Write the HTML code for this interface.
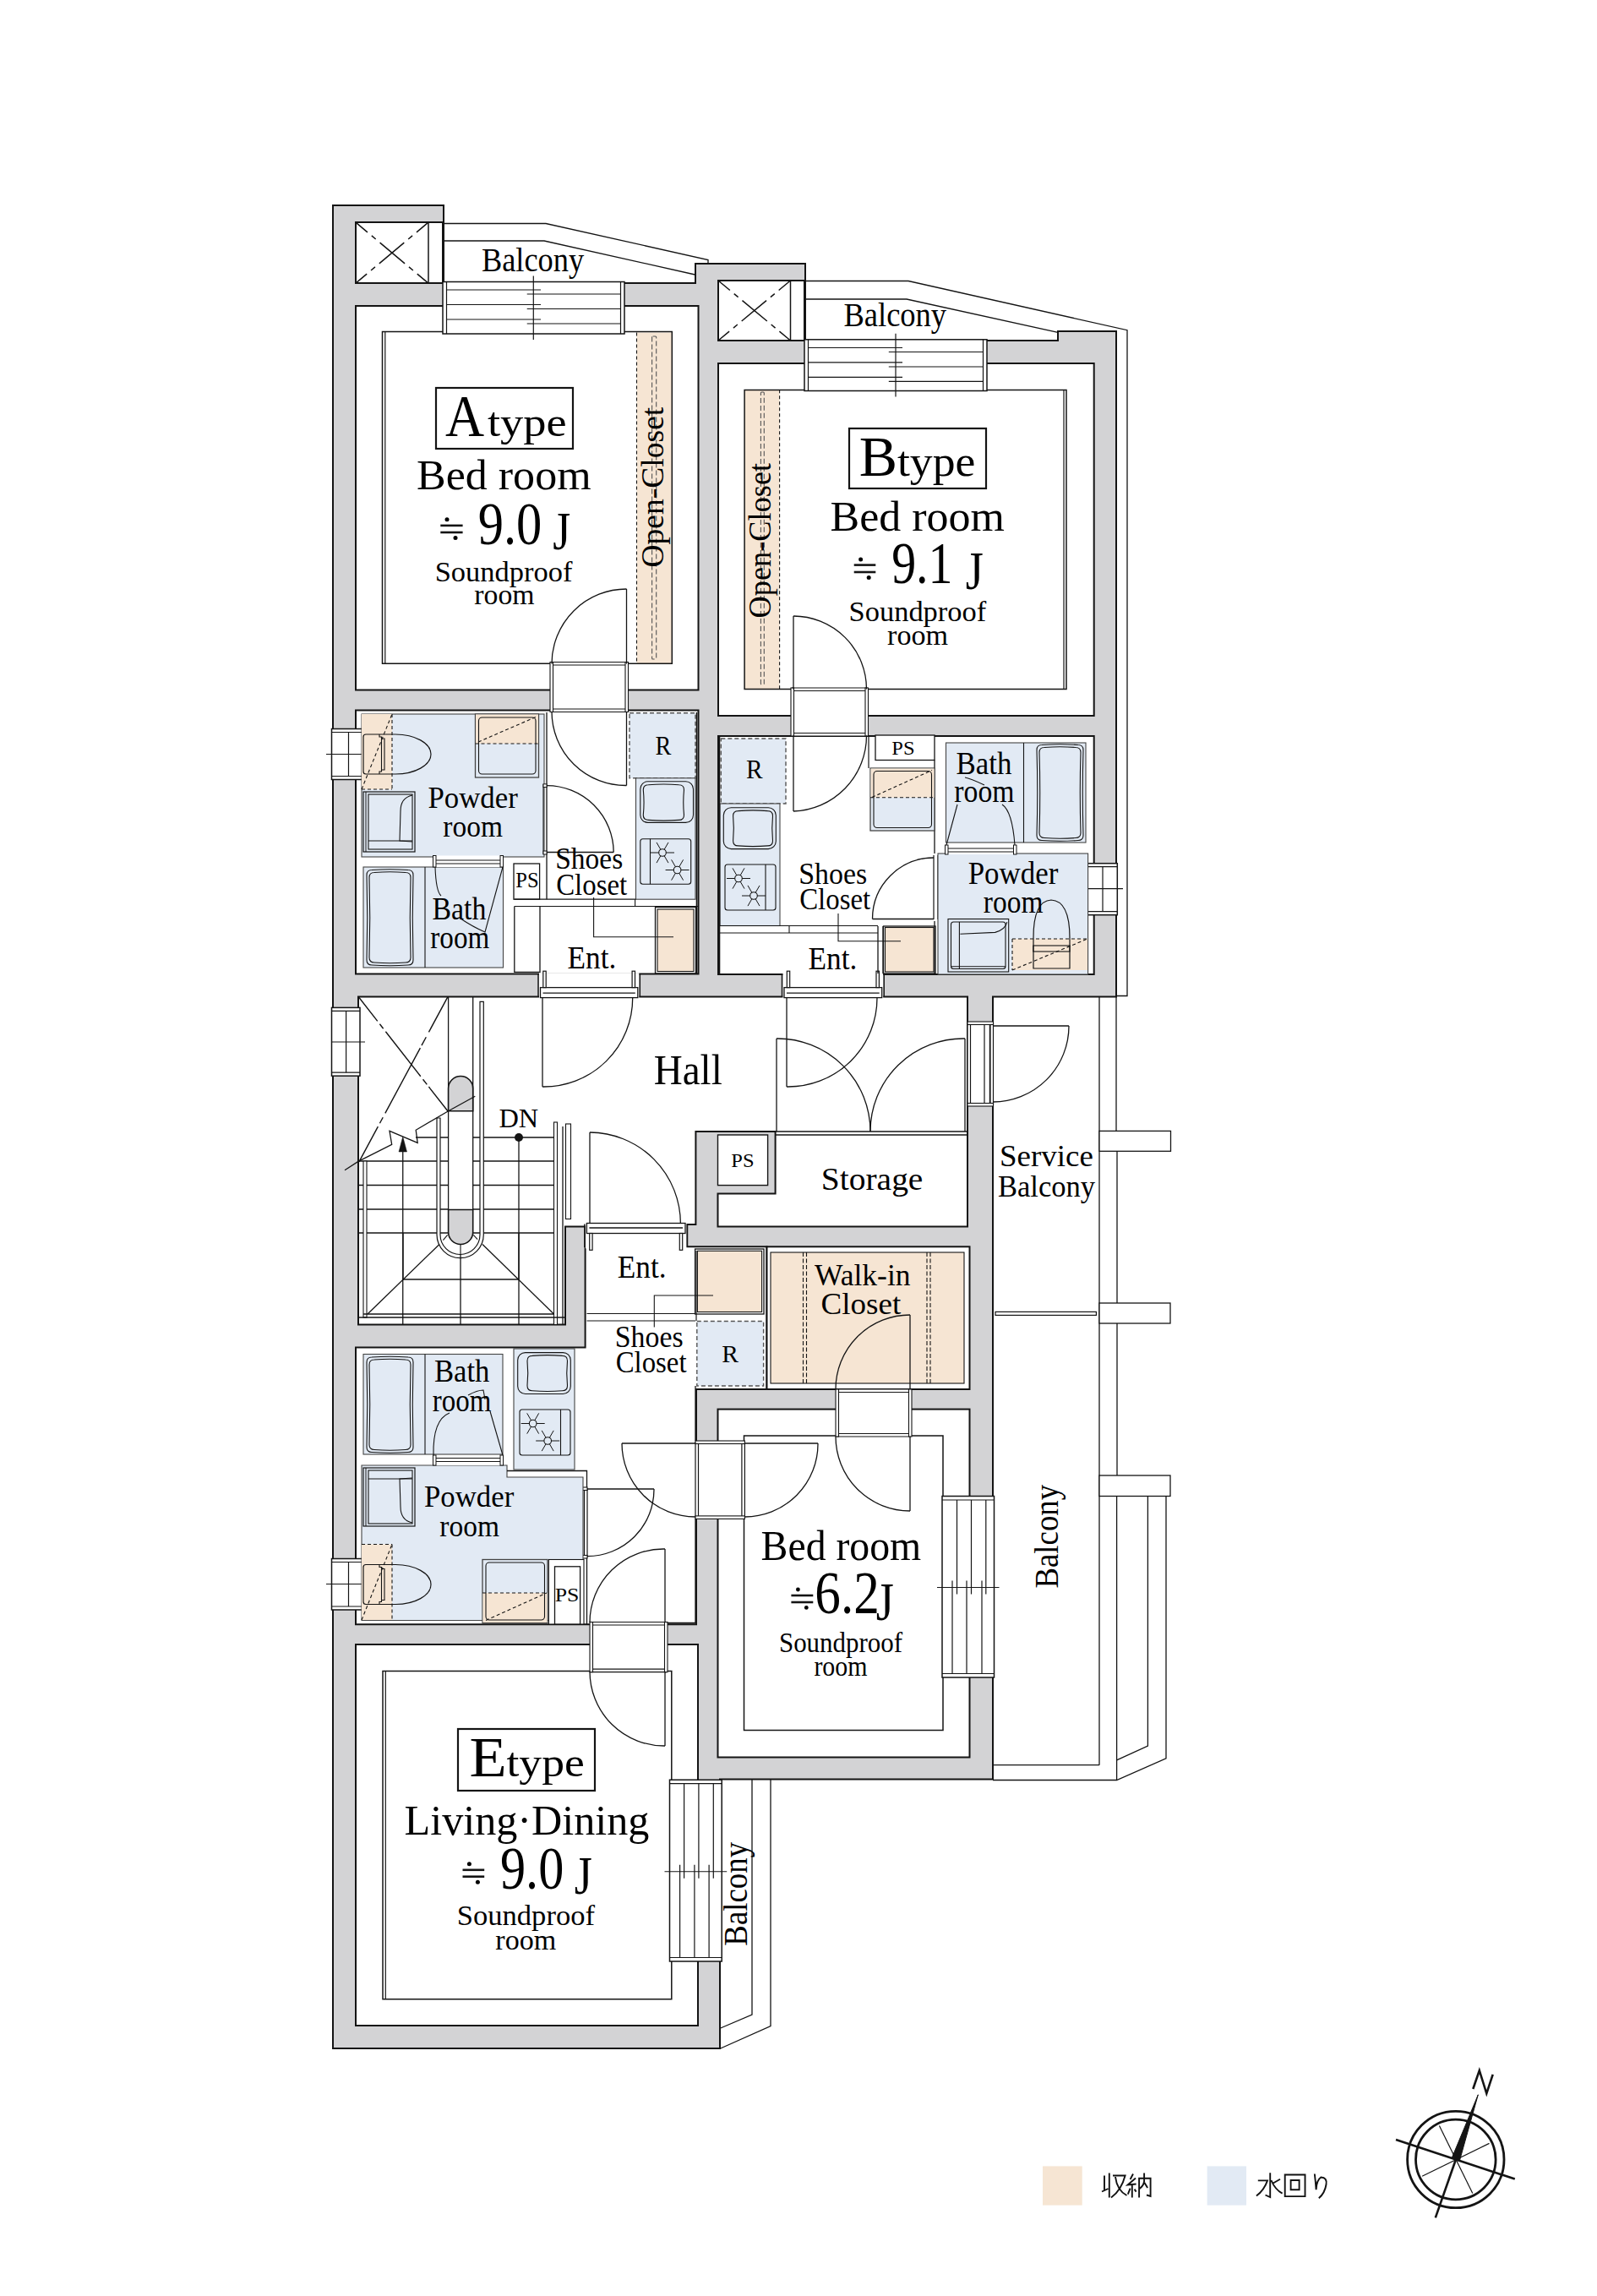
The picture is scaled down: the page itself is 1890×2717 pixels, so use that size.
<!DOCTYPE html>
<html><head><meta charset="utf-8"><title>Floor plan</title>
<style>html,body{margin:0;padding:0;background:#fff;} svg{display:block;} text{font-family:"Liberation Serif",serif;}</style>
</head><body>
<svg width="1890" height="2717" viewBox="0 0 1890 2717">
<rect x="0" y="0" width="1890" height="2717" fill="#fff"/>
<polygon points="394,243 525,243 525,335 823,335 823,312 953,312 953,403 1252,403 1252,392 1321,392 1321,1179.5 1175,1179.5 1175,2105.5 852,2105.5 852,2424 394,2424" fill="#d3d3d5" stroke="#141414" stroke-width="2" />
<rect x="421" y="263" width="103" height="72" fill="#fff" stroke="#141414" stroke-width="2" />
<rect x="850" y="332" width="102" height="71" fill="#fff" stroke="#141414" stroke-width="2" />
<rect x="421" y="362" width="405.5" height="454.5" fill="#fff" stroke="#141414" stroke-width="2" />
<rect x="850" y="430" width="444.7" height="417" fill="#fff" stroke="#141414" stroke-width="2" />
<rect x="421" y="840.5" width="405.5" height="312" fill="#fff" stroke="#141414" stroke-width="2" />
<rect x="850" y="871" width="444.7" height="282" fill="#fff" stroke="#141414" stroke-width="2" />
<polygon points="424,1179.5 1145,1179.5 1145,1451.5 849.5,1451.5 849.5,1412.6 917.6,1412.6 917.6,1339 823.4,1339 823.4,1449 812.4,1449 812.4,1475.3 692.6,1475.3 692.6,1451.6 669,1451.6 669,1567.5 424,1567.5" fill="#fff" stroke="#141414" stroke-width="2" />
<polygon points="421,1594.5 692.6,1594.5 692.6,1475.3 907.5,1475.3 907.5,1644 824,1644 824,1922.3 421,1922.3" fill="#fff" stroke="#141414" stroke-width="2" />
<rect x="907.5" y="1475.3" width="240" height="168.7" fill="#fff" stroke="#141414" stroke-width="2" />
<rect x="849.5" y="1667.6" width="298" height="411.9" fill="#fff" stroke="#141414" stroke-width="2" />
<rect x="421" y="1946" width="405" height="451" fill="#fff" stroke="#141414" stroke-width="2" />
<rect x="753.5" y="393.4" width="41.8" height="391.9" fill="#f6e5d3" stroke="#141414" stroke-width="0" />
<polyline points="524,392.5 452.5,392.5 452.5,785.3 795.3,785.3 795.3,392.5 739,392.5" fill="none" stroke="#141414" stroke-width="1.5" />
<line x1="455.8" y1="392.5" x2="455.8" y2="785.3" stroke="#141414" stroke-width="1.2" />
<line x1="753.5" y1="393.4" x2="753.5" y2="785.3" stroke="#141414" stroke-width="1.1" stroke-dasharray="4,3"/>
<rect x="771.6" y="398" width="5.1" height="382" fill="none" stroke="#555" stroke-width="1.1" stroke-dasharray="6,3" rx="1"/>
<rect x="881.1" y="461.3" width="41.5" height="354.2" fill="#f6e5d3" stroke="#141414" stroke-width="0" />
<polyline points="952,461.5 881.1,461.5 881.1,815.5 1262,815.5 1262,461.5 1168,461.5" fill="none" stroke="#141414" stroke-width="1.5" />
<line x1="1259" y1="461.5" x2="1259" y2="815.5" stroke="#141414" stroke-width="1.2" />
<line x1="922.6" y1="461.3" x2="922.6" y2="815.5" stroke="#141414" stroke-width="1.1" stroke-dasharray="4,3"/>
<rect x="900.4" y="464" width="3.9" height="346" fill="none" stroke="#555" stroke-width="1.1" stroke-dasharray="6,3" rx="1"/>
<polyline points="794.8,2106 794.8,1977.5 453,1977.5 453,2365.8 794.8,2365.8 794.8,2321" fill="none" stroke="#141414" stroke-width="1.5" />
<line x1="456.3" y1="1977.5" x2="456.3" y2="2365.8" stroke="#141414" stroke-width="1.2" />
<polyline points="880.5,1797 880.5,2047.5 1116,2047.5 1116,1985" fill="none" stroke="#141414" stroke-width="1.5" />
<polyline points="1116,1770.5 1116,1699 1079,1699" fill="none" stroke="#141414" stroke-width="1.5" />
<polyline points="989,1699 880.5,1699 880.5,1705" fill="none" stroke="#141414" stroke-width="1.5" />
<line x1="507" y1="263" x2="507" y2="335" stroke="#141414" stroke-width="1.5" />
<line x1="421" y1="263.2" x2="506.9" y2="335.1" stroke="#141414" stroke-width="1.5" pathLength="100" stroke-dasharray="16.2,5.7,5.7,5.7,34.3,5.7,5.7,5.7,15.5"/>
<line x1="506.9" y1="263.2" x2="421" y2="335.1" stroke="#141414" stroke-width="1.5" pathLength="100" stroke-dasharray="16.2,5.7,5.7,5.7,34.3,5.7,5.7,5.7,15.5"/>
<line x1="935.5" y1="332" x2="935.5" y2="403" stroke="#141414" stroke-width="1.5" />
<line x1="850" y1="332" x2="935.5" y2="403" stroke="#141414" stroke-width="1.5" pathLength="100" stroke-dasharray="16.2,5.7,5.7,5.7,34.3,5.7,5.7,5.7,15.5"/>
<line x1="935.5" y1="332" x2="850" y2="403" stroke="#141414" stroke-width="1.5" pathLength="100" stroke-dasharray="16.2,5.7,5.7,5.7,34.3,5.7,5.7,5.7,15.5"/>
<rect x="912" y="1482" width="229" height="155" fill="#f6e5d3" stroke="#141414" stroke-width="1.1" />
<line x1="950.5" y1="1482" x2="950.5" y2="1637" stroke="#141414" stroke-width="1.1" stroke-dasharray="5,2.5"/>
<line x1="954.5" y1="1482" x2="954.5" y2="1637" stroke="#141414" stroke-width="1.1" stroke-dasharray="5,2.5"/>
<line x1="1097" y1="1482" x2="1097" y2="1637" stroke="#141414" stroke-width="1.1" stroke-dasharray="5,2.5"/>
<line x1="1101" y1="1482" x2="1101" y2="1637" stroke="#141414" stroke-width="1.1" stroke-dasharray="5,2.5"/>
<rect x="524" y="333.5" width="215" height="61.5" fill="#fff" stroke="#141414" stroke-width="1.5" />
<line x1="528.5" y1="333.5" x2="528.5" y2="395" stroke="#141414" stroke-width="1.2" />
<line x1="734.5" y1="333.5" x2="734.5" y2="395" stroke="#141414" stroke-width="1.2" />
<line x1="528.5" y1="343" x2="640" y2="343" stroke="#141414" stroke-width="1.2" />
<line x1="528.5" y1="360.5" x2="640" y2="360.5" stroke="#141414" stroke-width="1.2" />
<line x1="528.5" y1="378" x2="640" y2="378" stroke="#141414" stroke-width="1.2" />
<line x1="623.7" y1="348" x2="734.5" y2="348" stroke="#141414" stroke-width="1.2" />
<line x1="623.7" y1="365.5" x2="734.5" y2="365.5" stroke="#141414" stroke-width="1.2" />
<line x1="623.7" y1="383" x2="734.5" y2="383" stroke="#141414" stroke-width="1.2" />
<line x1="631.3" y1="326.5" x2="631.3" y2="402" stroke="#141414" stroke-width="1.2" />
<rect x="952" y="401.8" width="216" height="60.7" fill="#fff" stroke="#141414" stroke-width="1.5" />
<line x1="956.5" y1="401.8" x2="956.5" y2="462.5" stroke="#141414" stroke-width="1.2" />
<line x1="1163.5" y1="401.8" x2="1163.5" y2="462.5" stroke="#141414" stroke-width="1.2" />
<line x1="956.5" y1="411.5" x2="1068" y2="411.5" stroke="#141414" stroke-width="1.2" />
<line x1="956.5" y1="428.8" x2="1068" y2="428.8" stroke="#141414" stroke-width="1.2" />
<line x1="956.5" y1="446.3" x2="1068" y2="446.3" stroke="#141414" stroke-width="1.2" />
<line x1="1051.8" y1="416.5" x2="1163.5" y2="416.5" stroke="#141414" stroke-width="1.2" />
<line x1="1051.8" y1="434" x2="1163.5" y2="434" stroke="#141414" stroke-width="1.2" />
<line x1="1051.8" y1="451.3" x2="1163.5" y2="451.3" stroke="#141414" stroke-width="1.2" />
<line x1="1060" y1="394.8" x2="1060" y2="469.5" stroke="#141414" stroke-width="1.2" />
<rect x="392.5" y="862.5" width="36.5" height="60" fill="#fff" stroke="#141414" stroke-width="1.5" />
<line x1="392.5" y1="866.5" x2="429" y2="866.5" stroke="#141414" stroke-width="1.2" />
<line x1="392.5" y1="918.5" x2="429" y2="918.5" stroke="#141414" stroke-width="1.2" />
<line x1="412.5" y1="866.5" x2="412.5" y2="918.5" stroke="#141414" stroke-width="1.2" />
<line x1="386" y1="892.5" x2="436" y2="892.5" stroke="#141414" stroke-width="1.2" />
<rect x="392.5" y="1192.4" width="33.5" height="80.8" fill="#fff" stroke="#141414" stroke-width="1.5" />
<line x1="392.5" y1="1196.4" x2="426" y2="1196.4" stroke="#141414" stroke-width="1.2" />
<line x1="392.5" y1="1269.2" x2="426" y2="1269.2" stroke="#141414" stroke-width="1.2" />
<line x1="409.6" y1="1196.4" x2="409.6" y2="1269.2" stroke="#141414" stroke-width="1.2" />
<line x1="392" y1="1233" x2="432" y2="1233" stroke="#141414" stroke-width="1.2" />
<rect x="392.5" y="1844.5" width="36.5" height="60.5" fill="#fff" stroke="#141414" stroke-width="1.5" />
<line x1="392.5" y1="1848.5" x2="429" y2="1848.5" stroke="#141414" stroke-width="1.2" />
<line x1="392.5" y1="1901" x2="429" y2="1901" stroke="#141414" stroke-width="1.2" />
<line x1="412.5" y1="1848.5" x2="412.5" y2="1901" stroke="#141414" stroke-width="1.2" />
<line x1="386" y1="1874.5" x2="436" y2="1874.5" stroke="#141414" stroke-width="1.2" />
<rect x="1285.7" y="1021.7" width="36.6" height="61" fill="#fff" stroke="#141414" stroke-width="1.5" />
<line x1="1285.7" y1="1025.7" x2="1322.3" y2="1025.7" stroke="#141414" stroke-width="1.2" />
<line x1="1285.7" y1="1078.7" x2="1322.3" y2="1078.7" stroke="#141414" stroke-width="1.2" />
<line x1="1305" y1="1025.7" x2="1305" y2="1078.7" stroke="#141414" stroke-width="1.2" />
<line x1="1279" y1="1051.7" x2="1329" y2="1051.7" stroke="#141414" stroke-width="1.2" />
<rect x="1115" y="1770.5" width="61.5" height="214.5" fill="#fff" stroke="#141414" stroke-width="1.5" />
<line x1="1115" y1="1775" x2="1176.5" y2="1775" stroke="#141414" stroke-width="1.2" />
<line x1="1115" y1="1980.5" x2="1176.5" y2="1980.5" stroke="#141414" stroke-width="1.2" />
<line x1="1132.5" y1="1775" x2="1132.5" y2="1886.5" stroke="#141414" stroke-width="1.2" />
<line x1="1149.5" y1="1775" x2="1149.5" y2="1886.5" stroke="#141414" stroke-width="1.2" />
<line x1="1166.8" y1="1775" x2="1166.8" y2="1886.5" stroke="#141414" stroke-width="1.2" />
<line x1="1127" y1="1870.5" x2="1127" y2="1980.5" stroke="#141414" stroke-width="1.2" />
<line x1="1144" y1="1870.5" x2="1144" y2="1980.5" stroke="#141414" stroke-width="1.2" />
<line x1="1162" y1="1870.5" x2="1162" y2="1980.5" stroke="#141414" stroke-width="1.2" />
<line x1="1109" y1="1878.5" x2="1182.5" y2="1878.5" stroke="#141414" stroke-width="1.2" />
<rect x="792.5" y="2106.2" width="61.7" height="214.8" fill="#fff" stroke="#141414" stroke-width="1.5" />
<line x1="792.5" y1="2110.7" x2="854.2" y2="2110.7" stroke="#141414" stroke-width="1.2" />
<line x1="792.5" y1="2316.5" x2="854.2" y2="2316.5" stroke="#141414" stroke-width="1.2" />
<line x1="809.6" y1="2110.7" x2="809.6" y2="2222.75" stroke="#141414" stroke-width="1.2" />
<line x1="826.9" y1="2110.7" x2="826.9" y2="2222.75" stroke="#141414" stroke-width="1.2" />
<line x1="844.3" y1="2110.7" x2="844.3" y2="2222.75" stroke="#141414" stroke-width="1.2" />
<line x1="804.6" y1="2206.75" x2="804.6" y2="2316.5" stroke="#141414" stroke-width="1.2" />
<line x1="821.9" y1="2206.75" x2="821.9" y2="2316.5" stroke="#141414" stroke-width="1.2" />
<line x1="839.1" y1="2206.75" x2="839.1" y2="2316.5" stroke="#141414" stroke-width="1.2" />
<line x1="786.5" y1="2214.75" x2="860.2" y2="2214.75" stroke="#141414" stroke-width="1.2" />
<rect x="651" y="783.5" width="92.5" height="59" fill="#fff" stroke="#141414" stroke-width="0" />
<line x1="652" y1="783.5" x2="742.5" y2="783.5" stroke="#141414" stroke-width="1.2" />
<line x1="652" y1="787" x2="742.5" y2="787" stroke="#141414" stroke-width="1.2" />
<line x1="652" y1="842.5" x2="742.5" y2="842.5" stroke="#141414" stroke-width="1.2" />
<line x1="652" y1="839" x2="742.5" y2="839" stroke="#141414" stroke-width="1.2" />
<rect x="651" y="783.5" width="3.5" height="59" fill="#fff" stroke="#141414" stroke-width="1.1" />
<rect x="740" y="783.5" width="3.5" height="59" fill="#fff" stroke="#141414" stroke-width="1.1" />
<line x1="741.5" y1="785.5" x2="741.5" y2="697" stroke="#141414" stroke-width="1.3" />
<path d="M741.5,697 A88.5,88.5 0 0 0 653,785.5" fill="none" stroke="#141414" stroke-width="1.3" />
<line x1="741.5" y1="842" x2="741.5" y2="929.5" stroke="#141414" stroke-width="1.3" />
<path d="M741.5,929.5 A87.5,87.5 0 0 1 653,842" fill="none" stroke="#141414" stroke-width="1.3" />
<rect x="936" y="814" width="91.5" height="57" fill="#fff" stroke="#141414" stroke-width="0" />
<line x1="937" y1="814" x2="1026.5" y2="814" stroke="#141414" stroke-width="1.2" />
<line x1="937" y1="817.5" x2="1026.5" y2="817.5" stroke="#141414" stroke-width="1.2" />
<line x1="937" y1="871" x2="1026.5" y2="871" stroke="#141414" stroke-width="1.2" />
<line x1="937" y1="867.5" x2="1026.5" y2="867.5" stroke="#141414" stroke-width="1.2" />
<rect x="936" y="814" width="3.5" height="57" fill="#fff" stroke="#141414" stroke-width="1.1" />
<rect x="1024" y="814" width="3.5" height="57" fill="#fff" stroke="#141414" stroke-width="1.1" />
<line x1="939" y1="815.5" x2="939" y2="729" stroke="#141414" stroke-width="1.3" />
<path d="M939,729 A86.5,86.5 0 0 1 1025.5,815.5" fill="none" stroke="#141414" stroke-width="1.3" />
<line x1="939" y1="870.5" x2="939" y2="960" stroke="#141414" stroke-width="1.3" />
<path d="M939,960 A89.5,89.5 0 0 0 1025.5,870.5" fill="none" stroke="#141414" stroke-width="1.3" />
<rect x="638" y="1151.2" width="118.3" height="29.7" fill="#fff" stroke="#141414" stroke-width="0" />
<rect x="639.5" y="1168.6" width="115.3" height="12" fill="#fff" stroke="#141414" stroke-width="1.3" />
<line x1="642.5" y1="1175.1" x2="751.8" y2="1175.1" stroke="#141414" stroke-width="1.3" />
<rect x="642.8" y="1149.2" width="3.4" height="19.4" fill="#fff" stroke="#141414" stroke-width="1.2" />
<rect x="748.1" y="1149.2" width="3.4" height="19.4" fill="#fff" stroke="#141414" stroke-width="1.2" />
<line x1="637" y1="1152.5" x2="637" y2="1179.6" stroke="#141414" stroke-width="1.5" />
<line x1="757.3" y1="1152.5" x2="757.3" y2="1179.6" stroke="#141414" stroke-width="1.5" />
<line x1="642" y1="1181" x2="642" y2="1286" stroke="#141414" stroke-width="1.3" />
<path d="M642,1286 A105,105 0 0 0 748.7,1181" fill="none" stroke="#141414" stroke-width="1.3" />
<rect x="926.5" y="1151.2" width="118.7" height="29.7" fill="#fff" stroke="#141414" stroke-width="0" />
<rect x="928" y="1168.6" width="115.7" height="12" fill="#fff" stroke="#141414" stroke-width="1.3" />
<line x1="931" y1="1175.1" x2="1040.7" y2="1175.1" stroke="#141414" stroke-width="1.3" />
<rect x="931.3" y="1149.2" width="3.4" height="19.4" fill="#fff" stroke="#141414" stroke-width="1.2" />
<rect x="1037" y="1149.2" width="3.4" height="19.4" fill="#fff" stroke="#141414" stroke-width="1.2" />
<line x1="925.5" y1="1152.5" x2="925.5" y2="1179.6" stroke="#141414" stroke-width="1.5" />
<line x1="1046.2" y1="1152.5" x2="1046.2" y2="1179.6" stroke="#141414" stroke-width="1.5" />
<line x1="931" y1="1181" x2="931" y2="1286" stroke="#141414" stroke-width="1.3" />
<path d="M931,1286 A105,105 0 0 0 1038,1181" fill="none" stroke="#141414" stroke-width="1.3" />
<line x1="919" y1="1339" x2="919" y2="1229" stroke="#141414" stroke-width="1.3" />
<path d="M919,1229 A110,110 0 0 1 1030,1339" fill="none" stroke="#141414" stroke-width="1.3" />
<line x1="1142" y1="1339" x2="1142" y2="1229" stroke="#141414" stroke-width="1.3" />
<path d="M1142,1229 A110,110 0 0 0 1030,1339" fill="none" stroke="#141414" stroke-width="1.3" />
<line x1="917" y1="1339" x2="1145" y2="1339" stroke="#141414" stroke-width="1.3" />
<line x1="917" y1="1343" x2="1145" y2="1343" stroke="#141414" stroke-width="1.3" />
<rect x="1145" y="1209" width="30.5" height="100" fill="#fff" stroke="#141414" stroke-width="0" />
<line x1="1145" y1="1210" x2="1145" y2="1308" stroke="#141414" stroke-width="1.2" />
<line x1="1148.5" y1="1210" x2="1148.5" y2="1308" stroke="#141414" stroke-width="1.2" />
<line x1="1175.5" y1="1210" x2="1175.5" y2="1308" stroke="#141414" stroke-width="1.2" />
<line x1="1172" y1="1210" x2="1172" y2="1308" stroke="#141414" stroke-width="1.2" />
<rect x="1145" y="1209" width="30.5" height="3.5" fill="#fff" stroke="#141414" stroke-width="1.1" />
<rect x="1145" y="1305.5" width="30.5" height="3.5" fill="#fff" stroke="#141414" stroke-width="1.1" />
<line x1="1165" y1="1212.5" x2="1165" y2="1305.5" stroke="#141414" stroke-width="1.2" />
<line x1="1171.4" y1="1212.5" x2="1171.4" y2="1305.5" stroke="#141414" stroke-width="1.2" />
<line x1="1175" y1="1214" x2="1265" y2="1214" stroke="#141414" stroke-width="1.3" />
<path d="M1265,1214 A90,90 0 0 1 1175,1304" fill="none" stroke="#141414" stroke-width="1.3" />
<rect x="692.9" y="1447.2" width="119.6" height="30.1" fill="#fff" stroke="#141414" stroke-width="0" />
<rect x="694.4" y="1447.5" width="116.6" height="12" fill="#fff" stroke="#141414" stroke-width="1.3" />
<line x1="697.4" y1="1453" x2="808" y2="1453" stroke="#141414" stroke-width="1.3" />
<rect x="697.7" y="1459.5" width="3.4" height="19.8" fill="#fff" stroke="#141414" stroke-width="1.2" />
<rect x="804.3" y="1459.5" width="3.4" height="19.8" fill="#fff" stroke="#141414" stroke-width="1.2" />
<line x1="691.9" y1="1448.5" x2="691.9" y2="1476" stroke="#141414" stroke-width="1.5" />
<line x1="813.5" y1="1448.5" x2="813.5" y2="1476" stroke="#141414" stroke-width="1.5" />
<line x1="698" y1="1448" x2="698" y2="1340" stroke="#141414" stroke-width="1.3" />
<path d="M698,1340 A108,108 0 0 1 805.4,1448" fill="none" stroke="#141414" stroke-width="1.3" />
<rect x="989" y="1644" width="90" height="56" fill="#fff" stroke="#141414" stroke-width="0" />
<line x1="990" y1="1644" x2="1078" y2="1644" stroke="#141414" stroke-width="1.2" />
<line x1="990" y1="1647.5" x2="1078" y2="1647.5" stroke="#141414" stroke-width="1.2" />
<line x1="990" y1="1700" x2="1078" y2="1700" stroke="#141414" stroke-width="1.2" />
<line x1="990" y1="1696.5" x2="1078" y2="1696.5" stroke="#141414" stroke-width="1.2" />
<rect x="989" y="1644" width="3.5" height="56" fill="#fff" stroke="#141414" stroke-width="1.1" />
<rect x="1075.5" y="1644" width="3.5" height="56" fill="#fff" stroke="#141414" stroke-width="1.1" />
<line x1="1077" y1="1644" x2="1077" y2="1556" stroke="#141414" stroke-width="1.3" />
<path d="M1077,1556 A88,88 0 0 0 989,1644" fill="none" stroke="#141414" stroke-width="1.3" />
<line x1="1077" y1="1700" x2="1077" y2="1788" stroke="#141414" stroke-width="1.3" />
<path d="M1077,1788 A88,88 0 0 1 989,1700" fill="none" stroke="#141414" stroke-width="1.3" />
<rect x="823" y="1705" width="58.4" height="92.4" fill="#fff" stroke="#141414" stroke-width="0" />
<line x1="823" y1="1706" x2="823" y2="1796.4" stroke="#141414" stroke-width="1.2" />
<line x1="826.5" y1="1706" x2="826.5" y2="1796.4" stroke="#141414" stroke-width="1.2" />
<line x1="881.4" y1="1706" x2="881.4" y2="1796.4" stroke="#141414" stroke-width="1.2" />
<line x1="877.9" y1="1706" x2="877.9" y2="1796.4" stroke="#141414" stroke-width="1.2" />
<rect x="823" y="1705" width="58.4" height="3.5" fill="#fff" stroke="#141414" stroke-width="1.1" />
<rect x="823" y="1793.9" width="58.4" height="3.5" fill="#fff" stroke="#141414" stroke-width="1.1" />
<line x1="823" y1="1708" x2="736" y2="1708" stroke="#141414" stroke-width="1.3" />
<path d="M736,1708 A87,87 0 0 0 823,1795" fill="none" stroke="#141414" stroke-width="1.3" />
<line x1="881.4" y1="1708" x2="968" y2="1708" stroke="#141414" stroke-width="1.3" />
<path d="M968,1708 A86.6,86.6 0 0 1 881.4,1795" fill="none" stroke="#141414" stroke-width="1.3" />
<rect x="686" y="1760" width="9" height="84" fill="#fff" stroke="#141414" stroke-width="0" />
<line x1="686" y1="1761" x2="686" y2="1843" stroke="#141414" stroke-width="1.2" />
<line x1="689.5" y1="1761" x2="689.5" y2="1843" stroke="#141414" stroke-width="1.2" />
<line x1="695" y1="1761" x2="695" y2="1843" stroke="#141414" stroke-width="1.2" />
<line x1="691.5" y1="1761" x2="691.5" y2="1843" stroke="#141414" stroke-width="1.2" />
<rect x="686" y="1760" width="9" height="3.5" fill="#fff" stroke="#141414" stroke-width="1.1" />
<rect x="686" y="1840.5" width="9" height="3.5" fill="#fff" stroke="#141414" stroke-width="1.1" />
<line x1="695" y1="1762" x2="774" y2="1762" stroke="#141414" stroke-width="1.3" />
<path d="M774,1762 A79,79 0 0 1 695,1841.6" fill="none" stroke="#141414" stroke-width="1.3" />
<rect x="698" y="1919.5" width="92" height="59.2" fill="#fff" stroke="#141414" stroke-width="0" />
<line x1="699" y1="1919.5" x2="789" y2="1919.5" stroke="#141414" stroke-width="1.2" />
<line x1="699" y1="1923" x2="789" y2="1923" stroke="#141414" stroke-width="1.2" />
<line x1="699" y1="1978.7" x2="789" y2="1978.7" stroke="#141414" stroke-width="1.2" />
<line x1="699" y1="1975.2" x2="789" y2="1975.2" stroke="#141414" stroke-width="1.2" />
<rect x="698" y="1919.5" width="3.5" height="59.2" fill="#fff" stroke="#141414" stroke-width="1.1" />
<rect x="786.5" y="1919.5" width="3.5" height="59.2" fill="#fff" stroke="#141414" stroke-width="1.1" />
<line x1="787" y1="1920" x2="787" y2="1833" stroke="#141414" stroke-width="1.3" />
<path d="M787,1833 A87,87 0 0 0 698,1920" fill="none" stroke="#141414" stroke-width="1.3" />
<line x1="787" y1="1978" x2="787" y2="2066" stroke="#141414" stroke-width="1.3" />
<path d="M787,2066 A88,88 0 0 1 698,1978" fill="none" stroke="#141414" stroke-width="1.3" />
<rect x="428" y="845" width="216" height="169" fill="#e2eaf4" stroke="#444" stroke-width="1.1" />
<rect x="428" y="845" width="36" height="89" fill="#f6e5d3" stroke="#141414" stroke-width="0" />
<line x1="464" y1="845" x2="464" y2="934" stroke="#141414" stroke-width="1.1" stroke-dasharray="4,3"/>
<line x1="428" y1="934" x2="464" y2="934" stroke="#141414" stroke-width="1.1" stroke-dasharray="4,3"/>
<line x1="428" y1="934" x2="464" y2="845" stroke="#141414" stroke-width="1.1" stroke-dasharray="4,3"/>
<path d="M468,869 A42,23.5 0 0 1 468,916 L433,916 Q430,916 430,913 L430,872 Q430,869 433,869 Z" fill="none" stroke="#141414" stroke-width="1.2" />
<polyline points="449,869 449,872 451.5,872 451.5,913 449,913 449,916" fill="none" stroke="#141414" stroke-width="1.1" />
<polyline points="451.5,874 455,874 455,911 451.5,911" fill="none" stroke="#141414" stroke-width="1.1" />
<rect x="562.5" y="845" width="75" height="75" fill="#e2eaf4" stroke="#444" stroke-width="1.3" />
<rect x="563" y="845.5" width="74" height="34.5" fill="#f6e5d3" stroke="#141414" stroke-width="0" />
<line x1="562.5" y1="880" x2="637.5" y2="880" stroke="#141414" stroke-width="1.1" stroke-dasharray="4,3"/>
<rect x="566.5" y="849" width="67.5" height="67" fill="none" stroke="#141414" stroke-width="1.1" rx="4"/>
<line x1="566" y1="878" x2="634" y2="848.5" stroke="#141414" stroke-width="1.1" stroke-dasharray="4,3"/>
<rect x="430" y="937" width="61" height="71" fill="none" stroke="#141414" stroke-width="1.2" />
<line x1="433" y1="937" x2="433" y2="1008" stroke="#141414" stroke-width="1.0" />
<rect x="436" y="940" width="52" height="65" fill="none" stroke="#141414" stroke-width="1.1" />
<path d="M488,941 Q474,944 474,960 L473,995 L488,996" fill="none" stroke="#141414" stroke-width="1.1" />
<line x1="436" y1="995" x2="488" y2="995" stroke="#141414" stroke-width="1.0" />
<rect x="430" y="1026" width="165.5" height="119" fill="#e2eaf4" stroke="#444" stroke-width="1.1" />
<line x1="503" y1="1026" x2="503" y2="1145" stroke="#141414" stroke-width="1.1" />
<path d="M440,1029.5 Q461.5,1028 483,1029.5 Q489,1029.5 489,1035.5 Q487.5,1085.75 489,1136 Q489,1142 483,1142 Q461.5,1143.5 440,1142 Q434,1142 434,1136 Q435.5,1085.75 434,1035.5 Q434,1029.5 440,1029.5 Z" fill="none" stroke="#141414" stroke-width="1.1" />
<path d="M443,1032.5 Q461.5,1031 480,1032.5 Q486,1032.5 486,1038.5 Q484.5,1085.75 486,1133 Q486,1139 480,1139 Q461.5,1140.5 443,1139 Q437,1139 437,1133 Q438.5,1085.75 437,1038.5 Q437,1032.5 443,1032.5 Z" fill="none" stroke="#141414" stroke-width="1.1" />
<rect x="512.5" y="1012.5" width="83" height="13.5" fill="#fff" stroke="#141414" stroke-width="0" />
<line x1="516" y1="1018" x2="592" y2="1018" stroke="#141414" stroke-width="1.1" />
<line x1="516" y1="1022" x2="592" y2="1022" stroke="#141414" stroke-width="1.1" />
<rect x="512.5" y="1012.5" width="3.5" height="13.5" fill="#fff" stroke="#141414" stroke-width="1" />
<rect x="592" y="1012.5" width="3.5" height="13.5" fill="#fff" stroke="#141414" stroke-width="1" />
<path d="M515,1026 Q516,1055 522,1060" fill="none" stroke="#141414" stroke-width="1.1" />
<path d="M545,1087 Q560,1097 574,1103 L595,1026" fill="none" stroke="#141414" stroke-width="1.1" />
<rect x="608" y="1022" width="30.6" height="42.2" fill="#fff" stroke="#141414" stroke-width="1.3" />
<rect x="745" y="843.7" width="78" height="77.1" fill="#e2eaf4" stroke="#555" stroke-width="1.4" stroke-dasharray="5,3"/>
<rect x="752.5" y="920.8" width="70.5" height="143.4" fill="#e2eaf4" stroke="#444" stroke-width="1.1" />
<line x1="824.5" y1="843" x2="824.5" y2="1152" stroke="#141414" stroke-width="1.6" />
<rect x="757.8" y="924.8" width="62.7" height="48.6" fill="none" stroke="#141414" stroke-width="1.1" rx="9"/>
<path d="M767.3,928.7 Q785.4,927.2 803.5,928.7 Q809.5,928.7 809.5,934.7 Q808,949.55 809.5,964.4 Q809.5,970.4 803.5,970.4 Q785.4,971.9 767.3,970.4 Q761.3,970.4 761.3,964.4 Q762.8,949.55 761.3,934.7 Q761.3,928.7 767.3,928.7 Z" fill="none" stroke="#141414" stroke-width="1.1" />
<rect x="757.8" y="992.7" width="59.9" height="53.5" fill="none" stroke="#141414" stroke-width="1.1" rx="3"/>
<line x1="769.5" y1="992.7" x2="769.5" y2="1046.2" stroke="#141414" stroke-width="1.1" />
<circle cx="784" cy="1009" r="4.3" fill="none" stroke="#141414" stroke-width="1.1"/>
<line x1="788.3" y1="1009" x2="798" y2="1009" stroke="#141414" stroke-width="1.0" />
<line x1="786.15" y1="1012.72" x2="791" y2="1021.12" stroke="#141414" stroke-width="1.0" />
<line x1="781.85" y1="1012.72" x2="777" y2="1021.12" stroke="#141414" stroke-width="1.0" />
<line x1="779.7" y1="1009" x2="770" y2="1009" stroke="#141414" stroke-width="1.0" />
<line x1="781.85" y1="1005.28" x2="777" y2="996.88" stroke="#141414" stroke-width="1.0" />
<line x1="786.15" y1="1005.28" x2="791" y2="996.88" stroke="#141414" stroke-width="1.0" />
<circle cx="801.6" cy="1029.5" r="4.3" fill="none" stroke="#141414" stroke-width="1.1"/>
<line x1="805.9" y1="1029.5" x2="815.6" y2="1029.5" stroke="#141414" stroke-width="1.0" />
<line x1="803.75" y1="1033.22" x2="808.6" y2="1041.62" stroke="#141414" stroke-width="1.0" />
<line x1="799.45" y1="1033.22" x2="794.6" y2="1041.62" stroke="#141414" stroke-width="1.0" />
<line x1="797.3" y1="1029.5" x2="787.6" y2="1029.5" stroke="#141414" stroke-width="1.0" />
<line x1="799.45" y1="1025.78" x2="794.6" y2="1017.38" stroke="#141414" stroke-width="1.0" />
<line x1="803.75" y1="1025.78" x2="808.6" y2="1017.38" stroke="#141414" stroke-width="1.0" />
<line x1="647" y1="843" x2="647" y2="1064.2" stroke="#141414" stroke-width="1.3" />
<line x1="643" y1="928" x2="643" y2="1011" stroke="#141414" stroke-width="1.1" />
<rect x="643" y="927.8" width="4" height="3.7" fill="#fff" stroke="#141414" stroke-width="1" />
<rect x="643" y="1007" width="4" height="4" fill="#fff" stroke="#141414" stroke-width="1" />
<line x1="647" y1="1008.5" x2="726.2" y2="1008.5" stroke="#141414" stroke-width="1.3" />
<path d="M726.2,1008.5 A79.2,79.2 0 0 0 647,929.6" fill="none" stroke="#141414" stroke-width="1.3" />
<line x1="608.8" y1="1064.2" x2="752.5" y2="1064.2" stroke="#141414" stroke-width="1.2" />
<line x1="608.8" y1="1072.5" x2="826" y2="1072.5" stroke="#141414" stroke-width="1.2" />
<polyline points="639,1072.5 639,1150.3 608.8,1150.3 608.8,1072.5" fill="none" stroke="#141414" stroke-width="1.3" />
<line x1="751.6" y1="1064.2" x2="751.6" y2="1072.5" stroke="#141414" stroke-width="1.1" />
<rect x="775.5" y="1073.5" width="48" height="78.5" fill="none" stroke="#141414" stroke-width="1.3" />
<rect x="778" y="1076" width="43" height="73.5" fill="#f6e5d3" stroke="#141414" stroke-width="1.1" />
<polyline points="702.6,1062 702.6,1108.8 797,1108.8" fill="none" stroke="#141414" stroke-width="1.1" />
<rect x="853.3" y="874" width="76.7" height="77" fill="#e2eaf4" stroke="#555" stroke-width="1.4" stroke-dasharray="5,3"/>
<rect x="852" y="951" width="71" height="144.5" fill="#e2eaf4" stroke="#444" stroke-width="1.1" />
<line x1="851.5" y1="871" x2="851.5" y2="1152" stroke="#141414" stroke-width="1.6" />
<rect x="856.3" y="955.8" width="62" height="48.8" fill="none" stroke="#141414" stroke-width="1.1" rx="9"/>
<path d="M873.6,959.6 Q891.05,958.1 908.5,959.6 Q914.5,959.6 914.5,965.6 Q913,980.25 914.5,994.9 Q914.5,1000.9 908.5,1000.9 Q891.05,1002.4 873.6,1000.9 Q867.6,1000.9 867.6,994.9 Q869.1,980.25 867.6,965.6 Q867.6,959.6 873.6,959.6 Z" fill="none" stroke="#141414" stroke-width="1.1" />
<rect x="858" y="1023" width="60" height="54" fill="none" stroke="#141414" stroke-width="1.1" rx="3"/>
<line x1="906" y1="1023" x2="906" y2="1077" stroke="#141414" stroke-width="1.1" />
<circle cx="874" cy="1039.5" r="4.3" fill="none" stroke="#141414" stroke-width="1.1"/>
<line x1="878.3" y1="1039.5" x2="888" y2="1039.5" stroke="#141414" stroke-width="1.0" />
<line x1="876.15" y1="1043.22" x2="881" y2="1051.62" stroke="#141414" stroke-width="1.0" />
<line x1="871.85" y1="1043.22" x2="867" y2="1051.62" stroke="#141414" stroke-width="1.0" />
<line x1="869.7" y1="1039.5" x2="860" y2="1039.5" stroke="#141414" stroke-width="1.0" />
<line x1="871.85" y1="1035.78" x2="867" y2="1027.38" stroke="#141414" stroke-width="1.0" />
<line x1="876.15" y1="1035.78" x2="881" y2="1027.38" stroke="#141414" stroke-width="1.0" />
<circle cx="892" cy="1060" r="4.3" fill="none" stroke="#141414" stroke-width="1.1"/>
<line x1="896.3" y1="1060" x2="906" y2="1060" stroke="#141414" stroke-width="1.0" />
<line x1="894.15" y1="1063.72" x2="899" y2="1072.12" stroke="#141414" stroke-width="1.0" />
<line x1="889.85" y1="1063.72" x2="885" y2="1072.12" stroke="#141414" stroke-width="1.0" />
<line x1="887.7" y1="1060" x2="878" y2="1060" stroke="#141414" stroke-width="1.0" />
<line x1="889.85" y1="1056.28" x2="885" y2="1047.88" stroke="#141414" stroke-width="1.0" />
<line x1="894.15" y1="1056.28" x2="899" y2="1047.88" stroke="#141414" stroke-width="1.0" />
<line x1="852" y1="1095.5" x2="1039" y2="1095.5" stroke="#141414" stroke-width="1.2" />
<line x1="852" y1="1104" x2="1039" y2="1104" stroke="#141414" stroke-width="1.2" />
<line x1="934" y1="1095.5" x2="934" y2="1104" stroke="#141414" stroke-width="1.1" />
<line x1="1039" y1="1096" x2="1039" y2="1152" stroke="#141414" stroke-width="1.3" />
<line x1="1045" y1="1096" x2="1045" y2="1152" stroke="#141414" stroke-width="1.3" />
<rect x="1045.5" y="1096" width="61.5" height="56" fill="none" stroke="#141414" stroke-width="1.3" />
<rect x="1047.5" y="1097.5" width="57.5" height="52.5" fill="#f6e5d3" stroke="#141414" stroke-width="1.1" />
<polyline points="992,1081 992,1113.8 1066,1113.8" fill="none" stroke="#141414" stroke-width="1.1" />
<rect x="1036" y="870" width="70" height="29.5" fill="#fff" stroke="#141414" stroke-width="1.3" />
<line x1="1028" y1="870" x2="1028" y2="909" stroke="#141414" stroke-width="1.2" />
<line x1="1106" y1="899.5" x2="1106" y2="1152" stroke="#141414" stroke-width="1.3" />
<rect x="1030" y="909" width="76" height="74" fill="#e2eaf4" stroke="#444" stroke-width="1.3" />
<rect x="1030.5" y="909.5" width="75" height="34.3" fill="#f6e5d3" stroke="#141414" stroke-width="0" />
<line x1="1030" y1="943.8" x2="1106" y2="943.8" stroke="#141414" stroke-width="1.1" stroke-dasharray="4,3"/>
<rect x="1034" y="912.5" width="68.5" height="67" fill="none" stroke="#141414" stroke-width="1.1" rx="4"/>
<line x1="1032" y1="943.5" x2="1103" y2="911.5" stroke="#141414" stroke-width="1.1" stroke-dasharray="4,3"/>
<rect x="1105" y="1010" width="5" height="80" fill="#fff" stroke="#141414" stroke-width="0" />
<line x1="1105" y1="1012" x2="1105" y2="1088" stroke="#141414" stroke-width="1.2" />
<line x1="1110" y1="1012" x2="1110" y2="1088" stroke="#141414" stroke-width="1.2" />
<line x1="1105" y1="1087.5" x2="1032.5" y2="1087.5" stroke="#141414" stroke-width="1.3" />
<path d="M1032.5,1087.5 A72.5,72.5 0 0 1 1105,1015" fill="none" stroke="#141414" stroke-width="1.3" />
<rect x="1119.5" y="879" width="165.5" height="118" fill="#e2eaf4" stroke="#444" stroke-width="1.1" />
<line x1="1211.5" y1="879" x2="1211.5" y2="997" stroke="#141414" stroke-width="1.1" />
<path d="M1233,881.5 Q1254.5,880 1276,881.5 Q1282,881.5 1282,887.5 Q1280.5,938 1282,988.5 Q1282,994.5 1276,994.5 Q1254.5,996 1233,994.5 Q1227,994.5 1227,988.5 Q1228.5,938 1227,887.5 Q1227,881.5 1233,881.5 Z" fill="none" stroke="#141414" stroke-width="1.1" />
<path d="M1236,884.5 Q1254.5,883 1273,884.5 Q1279,884.5 1279,890.5 Q1277.5,938 1279,985.5 Q1279,991.5 1273,991.5 Q1254.5,993 1236,991.5 Q1230,991.5 1230,985.5 Q1231.5,938 1230,890.5 Q1230,884.5 1236,884.5 Z" fill="none" stroke="#141414" stroke-width="1.1" />
<rect x="1110" y="1010" width="177.6" height="143" fill="#e2eaf4" stroke="#444" stroke-width="1.1" />
<rect x="1198" y="1111" width="89" height="37" fill="#f6e5d3" stroke="#141414" stroke-width="0" />
<line x1="1198" y1="1111" x2="1287" y2="1111" stroke="#141414" stroke-width="1.1" stroke-dasharray="4,3"/>
<line x1="1198" y1="1111" x2="1198" y2="1148" stroke="#141414" stroke-width="1.1" stroke-dasharray="4,3"/>
<line x1="1198" y1="1148" x2="1287" y2="1111" stroke="#141414" stroke-width="1.1" stroke-dasharray="4,3"/>
<path d="M1223,1146 L1223,1110 Q1223,1066 1244,1065 Q1266,1066 1266,1110 L1266,1146 Z" fill="none" stroke="#141414" stroke-width="1.2" />
<rect x="1222.8" y="1119" width="43.2" height="7" fill="none" stroke="#141414" stroke-width="1.1" />
<rect x="1122" y="1087.5" width="71.7" height="62.5" fill="none" stroke="#141414" stroke-width="1.1" />
<rect x="1125.5" y="1091" width="64.5" height="55.5" fill="none" stroke="#141414" stroke-width="1.1" rx="3"/>
<path d="M1136.4,1105.3 L1177.7,1103.4 Q1190,1100 1191.8,1091.2" fill="none" stroke="#141414" stroke-width="1.1" />
<line x1="1135.4" y1="1091" x2="1135.4" y2="1146" stroke="#141414" stroke-width="1.1" />
<line x1="1125.5" y1="1143.8" x2="1190" y2="1143.8" stroke="#141414" stroke-width="1.1" />
<rect x="1118.5" y="1000" width="84.5" height="11" fill="#fff" stroke="#141414" stroke-width="0" />
<line x1="1122" y1="1004" x2="1200" y2="1004" stroke="#141414" stroke-width="1.1" />
<line x1="1122" y1="1008" x2="1200" y2="1008" stroke="#141414" stroke-width="1.1" />
<rect x="1118.5" y="1000" width="3.5" height="11" fill="#fff" stroke="#141414" stroke-width="1" />
<rect x="1199.5" y="1000" width="3.5" height="11" fill="#fff" stroke="#141414" stroke-width="1" />
<path d="M1120,1000 L1133,952" fill="none" stroke="#141414" stroke-width="1.1" />
<path d="M1142,920 Q1148,921 1165,929" fill="none" stroke="#141414" stroke-width="1.1" />
<path d="M1201,1000 Q1198,960 1186,952" fill="none" stroke="#141414" stroke-width="1.1" />
<rect x="849.5" y="1343" width="59.1" height="59.6" fill="#fff" stroke="#141414" stroke-width="1.4" />
<line x1="424" y1="1374" x2="530.6" y2="1374" stroke="#141414" stroke-width="1.3" />
<line x1="559.7" y1="1374" x2="655.5" y2="1374" stroke="#141414" stroke-width="1.3" />
<line x1="424" y1="1402.5" x2="530.6" y2="1402.5" stroke="#141414" stroke-width="1.3" />
<line x1="559.7" y1="1402.5" x2="655.5" y2="1402.5" stroke="#141414" stroke-width="1.3" />
<line x1="424" y1="1431" x2="530.6" y2="1431" stroke="#141414" stroke-width="1.3" />
<line x1="559.7" y1="1431" x2="655.5" y2="1431" stroke="#141414" stroke-width="1.3" />
<line x1="424" y1="1459" x2="530.6" y2="1459" stroke="#141414" stroke-width="1.3" />
<line x1="559.7" y1="1459" x2="655.5" y2="1459" stroke="#141414" stroke-width="1.3" />
<line x1="492" y1="1346" x2="530.6" y2="1346" stroke="#141414" stroke-width="1.3" />
<line x1="559.7" y1="1346" x2="655.5" y2="1346" stroke="#141414" stroke-width="1.3" />
<line x1="529.6" y1="1461.4" x2="524.4" y2="1467.7" stroke="#141414" stroke-width="1.1" />
<line x1="560.3" y1="1461.4" x2="565.1" y2="1466.6" stroke="#141414" stroke-width="1.1" />
<line x1="530.6" y1="1179.5" x2="530.6" y2="1431.5" stroke="#141414" stroke-width="1.3" />
<line x1="559.7" y1="1179.5" x2="559.7" y2="1431.5" stroke="#141414" stroke-width="1.3" />
<path d="M530.6,1314.7 L530.6,1288 A14.55,14.55 0 0 1 559.7,1288 L559.7,1314.7 Z" fill="#d3d3d5" stroke="#141414" stroke-width="1.6" />
<path d="M530.6,1431.5 L530.6,1458 A14.55,14.55 0 0 0 559.7,1458 L559.7,1431.5 Z" fill="#d3d3d5" stroke="#141414" stroke-width="1.6" />
<path d="M517,1323 L517,1461 A27.65,27.65 0 0 0 572.3,1461 L572.3,1185.4 L568,1185.4 L568,1461 A23.5,23.5 0 0 1 521,1461 L521,1323 Z" fill="#fff" stroke="#141414" stroke-width="1.2" />
<line x1="424.4" y1="1179.8" x2="530.3" y2="1315.3" stroke="#141414" stroke-width="1.4" pathLength="100" stroke-dasharray="21.1,2.5,4.0,2.6,39.1,2.6,4.5,2.0,21.6"/>
<line x1="529.8" y1="1179.8" x2="424.9" y2="1374.9" stroke="#141414" stroke-width="1.4" pathLength="100" stroke-dasharray="21.3,3.0,5.1,1.5,39.6,2.5,3.6,2.0,21.4"/>
<polyline points="408,1384.8 424,1374.4 463.7,1354.4 461,1338.3 494.2,1352.4 492.2,1337.3 530.6,1314.7 562.3,1297.3" fill="none" stroke="#141414" stroke-width="1.3" />
<line x1="476.75" y1="1358" x2="476.75" y2="1567.5" stroke="#141414" stroke-width="1.3" />
<polygon points="476.75,1345 472,1363 481.5,1363" fill="#141414" stroke="#141414" stroke-width="0.5" />
<circle cx="614" cy="1346" r="5" fill="#141414"/>
<line x1="614" y1="1346" x2="614" y2="1567.5" stroke="#141414" stroke-width="1.3" />
<rect x="655.5" y="1328" width="4" height="239.5" fill="#fff" stroke="#141414" stroke-width="1.1" />
<line x1="666" y1="1333" x2="666" y2="1567.5" stroke="#141414" stroke-width="1.3" />
<rect x="669.5" y="1330" width="6" height="112.5" fill="#fff" stroke="#141414" stroke-width="1.1" />
<rect x="430" y="1374" width="4" height="185" fill="#fff" stroke="#141414" stroke-width="1.1" />
<line x1="424" y1="1559" x2="669" y2="1559" stroke="#141414" stroke-width="1.3" />
<line x1="430" y1="1555" x2="655.5" y2="1555" stroke="#141414" stroke-width="1.3" />
<line x1="435" y1="1555" x2="520" y2="1472.5" stroke="#141414" stroke-width="1.3" />
<line x1="655.5" y1="1555" x2="571" y2="1472.5" stroke="#141414" stroke-width="1.3" />
<line x1="477" y1="1514" x2="614" y2="1514" stroke="#141414" stroke-width="1.3" />
<line x1="545" y1="1485" x2="545" y2="1567.5" stroke="#141414" stroke-width="1.3" />
<line x1="545" y1="1472.6" x2="545" y2="1485" stroke="#141414" stroke-width="1.1" />
<line x1="477" y1="1459" x2="477" y2="1514" stroke="#141414" stroke-width="1.3" />
<line x1="614" y1="1459" x2="614" y2="1514" stroke="#141414" stroke-width="1.3" />
<polygon points="428,1734 600,1734 600,1748 690,1748 690,1917.5 428,1917.5" fill="#e2eaf4" stroke="#444" stroke-width="1.1" />
<rect x="428" y="1827.5" width="36" height="89.5" fill="#f6e5d3" stroke="#141414" stroke-width="0" />
<line x1="464" y1="1827.5" x2="464" y2="1917" stroke="#141414" stroke-width="1.1" stroke-dasharray="4,3"/>
<line x1="428" y1="1827.5" x2="464" y2="1827.5" stroke="#141414" stroke-width="1.1" stroke-dasharray="4,3"/>
<line x1="428" y1="1917" x2="464" y2="1827.5" stroke="#141414" stroke-width="1.1" stroke-dasharray="4,3"/>
<path d="M468,1851.5 A42,23.5 0 0 1 468,1898.5 L433,1898.5 Q430,1898.5 430,1895.5 L430,1854.5 Q430,1851.5 433,1851.5 Z" fill="none" stroke="#141414" stroke-width="1.2" />
<polyline points="449,1851.5 449,1854.5 451.5,1854.5 451.5,1895.5 449,1895.5 449,1898.5" fill="none" stroke="#141414" stroke-width="1.1" />
<polyline points="451.5,1856.5 455,1856.5 455,1893.5 451.5,1893.5" fill="none" stroke="#141414" stroke-width="1.1" />
<rect x="430" y="1737" width="61" height="69" fill="none" stroke="#141414" stroke-width="1.2" />
<line x1="433" y1="1737" x2="433" y2="1806" stroke="#141414" stroke-width="1.0" />
<rect x="436" y="1740" width="52" height="63" fill="none" stroke="#141414" stroke-width="1.1" />
<path d="M488,1802 Q474,1799 474,1783 L473,1750 L488,1749" fill="none" stroke="#141414" stroke-width="1.1" />
<line x1="436" y1="1750" x2="488" y2="1750" stroke="#141414" stroke-width="1.0" />
<rect x="571" y="1845.5" width="77" height="75" fill="#e2eaf4" stroke="#444" stroke-width="1.3" />
<rect x="571.5" y="1885" width="76" height="35" fill="#f6e5d3" stroke="#141414" stroke-width="0" />
<line x1="571" y1="1885" x2="648" y2="1885" stroke="#141414" stroke-width="1.1" stroke-dasharray="4,3"/>
<rect x="575" y="1849" width="69.5" height="68" fill="none" stroke="#141414" stroke-width="1.1" rx="4"/>
<line x1="575" y1="1917.5" x2="647" y2="1885" stroke="#141414" stroke-width="1.1" stroke-dasharray="4,3"/>
<rect x="649.4" y="1845.5" width="41.6" height="76.5" fill="#fff" stroke="#141414" stroke-width="1.1" />
<rect x="656.5" y="1853.8" width="30.1" height="68.2" fill="#fff" stroke="#141414" stroke-width="1.3" />
<rect x="430" y="1602.5" width="165" height="118.5" fill="#e2eaf4" stroke="#444" stroke-width="1.1" />
<line x1="503" y1="1602.5" x2="503" y2="1721" stroke="#141414" stroke-width="1.1" />
<path d="M440,1606 Q461.5,1604.5 483,1606 Q489,1606 489,1612 Q487.5,1662.25 489,1712.5 Q489,1718.5 483,1718.5 Q461.5,1720 440,1718.5 Q434,1718.5 434,1712.5 Q435.5,1662.25 434,1612 Q434,1606 440,1606 Z" fill="none" stroke="#141414" stroke-width="1.1" />
<path d="M443,1609 Q461.5,1607.5 480,1609 Q486,1609 486,1615 Q484.5,1662.25 486,1709.5 Q486,1715.5 480,1715.5 Q461.5,1717 443,1715.5 Q437,1715.5 437,1709.5 Q438.5,1662.25 437,1615 Q437,1609 443,1609 Z" fill="none" stroke="#141414" stroke-width="1.1" />
<rect x="512.5" y="1722" width="83" height="12" fill="#fff" stroke="#141414" stroke-width="0" />
<line x1="516" y1="1725.5" x2="592" y2="1725.5" stroke="#141414" stroke-width="1.1" />
<line x1="516" y1="1729.5" x2="592" y2="1729.5" stroke="#141414" stroke-width="1.1" />
<rect x="512.5" y="1722" width="3.5" height="12" fill="#fff" stroke="#141414" stroke-width="1" />
<rect x="592" y="1722" width="3.5" height="12" fill="#fff" stroke="#141414" stroke-width="1" />
<path d="M513,1722 Q512,1680 532,1672" fill="none" stroke="#141414" stroke-width="1.1" />
<path d="M595,1722 L580,1670" fill="none" stroke="#141414" stroke-width="1.1" />
<path d="M554,1651 Q565,1645 572,1645 L574,1656" fill="none" stroke="#141414" stroke-width="1.1" />
<rect x="608" y="1596" width="72" height="143" fill="#e2eaf4" stroke="#444" stroke-width="1.1" />
<rect x="612.7" y="1600.6" width="62.6" height="48.9" fill="none" stroke="#141414" stroke-width="1.1" rx="9"/>
<path d="M630,1604.4 Q647.75,1602.9 665.5,1604.4 Q671.5,1604.4 671.5,1610.4 Q670,1625.05 671.5,1639.7 Q671.5,1645.7 665.5,1645.7 Q647.75,1647.2 630,1645.7 Q624,1645.7 624,1639.7 Q625.5,1625.05 624,1610.4 Q624,1604.4 630,1604.4 Z" fill="none" stroke="#141414" stroke-width="1.1" />
<rect x="615" y="1668" width="60" height="54" fill="none" stroke="#141414" stroke-width="1.1" rx="3"/>
<line x1="663.5" y1="1668" x2="663.5" y2="1722" stroke="#141414" stroke-width="1.1" />
<circle cx="630.7" cy="1684.5" r="4.3" fill="none" stroke="#141414" stroke-width="1.1"/>
<line x1="635" y1="1684.5" x2="644.7" y2="1684.5" stroke="#141414" stroke-width="1.0" />
<line x1="632.85" y1="1688.22" x2="637.7" y2="1696.62" stroke="#141414" stroke-width="1.0" />
<line x1="628.55" y1="1688.22" x2="623.7" y2="1696.62" stroke="#141414" stroke-width="1.0" />
<line x1="626.4" y1="1684.5" x2="616.7" y2="1684.5" stroke="#141414" stroke-width="1.0" />
<line x1="628.55" y1="1680.78" x2="623.7" y2="1672.38" stroke="#141414" stroke-width="1.0" />
<line x1="632.85" y1="1680.78" x2="637.7" y2="1672.38" stroke="#141414" stroke-width="1.0" />
<circle cx="648.2" cy="1705" r="4.3" fill="none" stroke="#141414" stroke-width="1.1"/>
<line x1="652.5" y1="1705" x2="662.2" y2="1705" stroke="#141414" stroke-width="1.0" />
<line x1="650.35" y1="1708.72" x2="655.2" y2="1717.12" stroke="#141414" stroke-width="1.0" />
<line x1="646.05" y1="1708.72" x2="641.2" y2="1717.12" stroke="#141414" stroke-width="1.0" />
<line x1="643.9" y1="1705" x2="634.2" y2="1705" stroke="#141414" stroke-width="1.0" />
<line x1="646.05" y1="1701.28" x2="641.2" y2="1692.88" stroke="#141414" stroke-width="1.0" />
<line x1="650.35" y1="1701.28" x2="655.2" y2="1692.88" stroke="#141414" stroke-width="1.0" />
<polyline points="600,1740.5 694.5,1740.5 694.5,1760" fill="none" stroke="#141414" stroke-width="1.3" />
<line x1="694.5" y1="1844" x2="694.5" y2="1922" stroke="#141414" stroke-width="1.3" />
<line x1="694.5" y1="1554.5" x2="823" y2="1554.5" stroke="#141414" stroke-width="1.2" />
<line x1="694.5" y1="1563" x2="823" y2="1563" stroke="#141414" stroke-width="1.2" />
<rect x="822.6" y="1478" width="81.4" height="77" fill="none" stroke="#141414" stroke-width="1.3" />
<rect x="825.4" y="1480.3" width="76.2" height="72.2" fill="#f6e5d3" stroke="#141414" stroke-width="1.1" />
<rect x="824.8" y="1563.5" width="78.8" height="76.5" fill="#e2eaf4" stroke="#555" stroke-width="1.4" stroke-dasharray="5,3"/>
<line x1="824" y1="1480" x2="824" y2="1563" stroke="#141414" stroke-width="1.2" />
<polyline points="774.3,1570.5 774.3,1533 844,1533" fill="none" stroke="#141414" stroke-width="1.1" />
<line x1="823" y1="1640" x2="823" y2="1705" stroke="#141414" stroke-width="1.3" />
<line x1="823" y1="1797" x2="823" y2="1920.5" stroke="#141414" stroke-width="1.3" />
<line x1="790" y1="1920.5" x2="823" y2="1920.5" stroke="#141414" stroke-width="1.3" />
<polyline points="525,264.5 646,264.5 838,307.5 838,312" fill="none" stroke="#141414" stroke-width="1.3" />
<polyline points="524,285 644,285 822.5,325" fill="none" stroke="#141414" stroke-width="1.3" />
<polyline points="953,332.5 1075,332.5 1334,390.7 1334,1178.5 1321,1178.5" fill="none" stroke="#141414" stroke-width="1.3" />
<polyline points="952,354 1073,354 1252,393.4" fill="none" stroke="#141414" stroke-width="1.3" />
<line x1="1301" y1="1179.5" x2="1301" y2="2088.7" stroke="#141414" stroke-width="1.3" />
<line x1="1321" y1="1179.5" x2="1321" y2="1338.4" stroke="#141414" stroke-width="1.3" />
<rect x="1301" y="1338.4" width="84.5" height="23.9" fill="#fff" stroke="#141414" stroke-width="1.3" />
<line x1="1322" y1="1362.3" x2="1322" y2="1542" stroke="#141414" stroke-width="1.3" />
<rect x="1301" y="1542" width="84" height="24" fill="#fff" stroke="#141414" stroke-width="1.3" />
<line x1="1322" y1="1566" x2="1322" y2="1746" stroke="#141414" stroke-width="1.3" />
<rect x="1301" y="1746" width="84" height="24.5" fill="#fff" stroke="#141414" stroke-width="1.3" />
<rect x="1178" y="1552.4" width="119.4" height="4" fill="#fff" stroke="#141414" stroke-width="1.2" />
<line x1="1321.6" y1="1770.5" x2="1321.6" y2="2106.5" stroke="#141414" stroke-width="1.3" />
<polyline points="1175,2088.7 1301,2088.7" fill="none" stroke="#141414" stroke-width="1.3" />
<polyline points="1175,2106.5 1321.6,2106.5 1380,2080.8 1380,1770.5" fill="none" stroke="#141414" stroke-width="1.3" />
<polyline points="1321.6,2082.9 1358.4,2066.2 1358.4,1770.5" fill="none" stroke="#141414" stroke-width="1.3" />
<polyline points="890,2106 890,2384 852.7,2400" fill="none" stroke="#141414" stroke-width="1.3" />
<polyline points="912,2106 912,2397.5 852.7,2424" fill="none" stroke="#141414" stroke-width="1.3" />
<g font-family="Liberation Serif" fill="#000">
<text x="569.95" y="321" font-size="40" textLength="121.19" lengthAdjust="spacingAndGlyphs" >Balcony</text>
<text x="998.45" y="386" font-size="40" textLength="121.69" lengthAdjust="spacingAndGlyphs" >Balcony</text>
<rect x="516" y="459" width="162" height="72" fill="none" stroke="#141414" stroke-width="2.2" />
<text x="526.88" y="515.8" font-size="70" textLength="46.09" lengthAdjust="spacingAndGlyphs" >A</text>
<text x="576.97" y="515.8" font-size="49" textLength="93.72" lengthAdjust="spacingAndGlyphs" >type</text>
<text x="493" y="578.8" font-size="51.5" textLength="206.61" lengthAdjust="spacingAndGlyphs" >Bed room</text>
<line x1="521.3" y1="621.9" x2="547.6" y2="621.9" stroke="#141414" stroke-width="2.6" />
<line x1="521.3" y1="630" x2="547.6" y2="630" stroke="#141414" stroke-width="2.6" />
<circle cx="529" cy="614.8" r="2.5" fill="#000"/>
<circle cx="539" cy="636.6" r="2.5" fill="#000"/>
<text x="565.65" y="643.5" font-size="71" textLength="75.66" lengthAdjust="spacingAndGlyphs" >9.0</text>
<text x="654.17" y="650" font-size="63" textLength="20.96" lengthAdjust="spacingAndGlyphs" >J</text>
<text x="514.69" y="687.5" font-size="34" textLength="162.81" lengthAdjust="spacingAndGlyphs" >Soundproof</text>
<text x="561.32" y="715" font-size="34" textLength="71.2" lengthAdjust="spacingAndGlyphs" >room</text>
<text x="0" y="0" font-size="38" textLength="189.76" lengthAdjust="spacingAndGlyphs" transform="translate(785.3,671.54) rotate(-90)">Open-Closet</text>
<rect x="1005" y="507" width="162" height="71" fill="none" stroke="#141414" stroke-width="2.2" />
<text x="1016.84" y="563" font-size="68" textLength="45.27" lengthAdjust="spacingAndGlyphs" >B</text>
<text x="1061.98" y="563" font-size="50" textLength="92.38" lengthAdjust="spacingAndGlyphs" >type</text>
<text x="982.5" y="627.5" font-size="51.5" textLength="206.31" lengthAdjust="spacingAndGlyphs" >Bed room</text>
<line x1="1010.7" y1="668.6" x2="1036.3" y2="668.6" stroke="#141414" stroke-width="2.6" />
<line x1="1010.7" y1="677" x2="1036.3" y2="677" stroke="#141414" stroke-width="2.6" />
<circle cx="1018.6" cy="661.9" r="2.5" fill="#000"/>
<circle cx="1028.2" cy="683.5" r="2.5" fill="#000"/>
<text x="1055.13" y="690" font-size="70" textLength="72.34" lengthAdjust="spacingAndGlyphs" >9.1</text>
<text x="1142.86" y="697" font-size="63" textLength="21.07" lengthAdjust="spacingAndGlyphs" >J</text>
<text x="1004.6" y="734.6" font-size="34" textLength="162.6" lengthAdjust="spacingAndGlyphs" >Soundproof</text>
<text x="1050.02" y="763.4" font-size="34" textLength="72.02" lengthAdjust="spacingAndGlyphs" >room</text>
<text x="0" y="0" font-size="38" textLength="183.7" lengthAdjust="spacingAndGlyphs" transform="translate(912.1,731.49) rotate(-90)">Open-Closet</text>
<text x="506.5" y="956" font-size="36" textLength="106.31" lengthAdjust="spacingAndGlyphs" >Powder</text>
<text x="524.33" y="990" font-size="36" textLength="70.69" lengthAdjust="spacingAndGlyphs" >room</text>
<text x="511.52" y="1087.5" font-size="38" textLength="63.92" lengthAdjust="spacingAndGlyphs" >Bath</text>
<text x="509.34" y="1122" font-size="38" textLength="69.98" lengthAdjust="spacingAndGlyphs" >room</text>
<text x="610.29" y="1050" font-size="25" textLength="27.22" lengthAdjust="spacingAndGlyphs" >PS</text>
<text x="657.26" y="1027.5" font-size="36" textLength="79.95" lengthAdjust="spacingAndGlyphs" >Shoes</text>
<text x="658.15" y="1059" font-size="36" textLength="84.04" lengthAdjust="spacingAndGlyphs" >Closet</text>
<text x="671.48" y="1146" font-size="38" textLength="57.84" lengthAdjust="spacingAndGlyphs" >Ent.</text>
<text x="775.39" y="892.8" font-size="31" textLength="18.86" lengthAdjust="spacingAndGlyphs" >R</text>
<text x="882.95" y="921.3" font-size="31" textLength="19.59" lengthAdjust="spacingAndGlyphs" >R</text>
<text x="1055.29" y="892.5" font-size="24" textLength="27.22" lengthAdjust="spacingAndGlyphs" >PS</text>
<text x="1131.6" y="915.5" font-size="38" textLength="65.86" lengthAdjust="spacingAndGlyphs" >Bath</text>
<text x="1129.32" y="949" font-size="38" textLength="71.2" lengthAdjust="spacingAndGlyphs" >room</text>
<text x="1145.69" y="1046" font-size="38" textLength="106.61" lengthAdjust="spacingAndGlyphs" >Powder</text>
<text x="1163.83" y="1080" font-size="38" textLength="70.69" lengthAdjust="spacingAndGlyphs" >room</text>
<text x="945.23" y="1045.5" font-size="36" textLength="80.99" lengthAdjust="spacingAndGlyphs" >Shoes</text>
<text x="946.15" y="1076" font-size="36" textLength="84.04" lengthAdjust="spacingAndGlyphs" >Closet</text>
<text x="956.48" y="1147" font-size="38" textLength="57.84" lengthAdjust="spacingAndGlyphs" >Ent.</text>
<text x="773.64" y="1282.5" font-size="50" textLength="81.1" lengthAdjust="spacingAndGlyphs" >Hall</text>
<text x="590.47" y="1334" font-size="32" textLength="46.78" lengthAdjust="spacingAndGlyphs" >DN</text>
<text x="865.29" y="1381" font-size="24" textLength="27.22" lengthAdjust="spacingAndGlyphs" >PS</text>
<text x="971.86" y="1407.5" font-size="37" textLength="120.51" lengthAdjust="spacingAndGlyphs" >Storage</text>
<text x="1183.03" y="1380" font-size="36" textLength="110.85" lengthAdjust="spacingAndGlyphs" >Service</text>
<text x="1181" y="1416" font-size="36" textLength="115.13" lengthAdjust="spacingAndGlyphs" >Balcony</text>
<text x="963.97" y="1521" font-size="36" textLength="113.56" lengthAdjust="spacingAndGlyphs" >Walk-in</text>
<text x="971.48" y="1555" font-size="36" textLength="94.74" lengthAdjust="spacingAndGlyphs" >Closet</text>
<text x="854.15" y="1612" font-size="30" textLength="19.69" lengthAdjust="spacingAndGlyphs" >R</text>
<text x="730.78" y="1512" font-size="38" textLength="57.84" lengthAdjust="spacingAndGlyphs" >Ent.</text>
<text x="727.74" y="1593.5" font-size="36" textLength="80.89" lengthAdjust="spacingAndGlyphs" >Shoes</text>
<text x="728.65" y="1623.6" font-size="36" textLength="83.94" lengthAdjust="spacingAndGlyphs" >Closet</text>
<text x="514" y="1635" font-size="38" textLength="65.46" lengthAdjust="spacingAndGlyphs" >Bath</text>
<text x="511.84" y="1670" font-size="38" textLength="69.68" lengthAdjust="spacingAndGlyphs" >room</text>
<text x="502" y="1783" font-size="36" textLength="106.31" lengthAdjust="spacingAndGlyphs" >Powder</text>
<text x="520.33" y="1817.5" font-size="36" textLength="70.69" lengthAdjust="spacingAndGlyphs" >room</text>
<text x="656.76" y="1895" font-size="24" textLength="28.64" lengthAdjust="spacingAndGlyphs" >PS</text>
<text x="900.62" y="1845.5" font-size="50.5" textLength="189.62" lengthAdjust="spacingAndGlyphs" >Bed room</text>
<line x1="936.4" y1="1888" x2="962.3" y2="1888" stroke="#141414" stroke-width="2.6" />
<line x1="936.4" y1="1896" x2="962.3" y2="1896" stroke="#141414" stroke-width="2.6" />
<circle cx="944.4" cy="1881" r="2.4" fill="#000"/>
<circle cx="954.3" cy="1902.4" r="2.4" fill="#000"/>
<text x="964.37" y="1909" font-size="71" textLength="76.4" lengthAdjust="spacingAndGlyphs" >6.2</text>
<text x="1036.76" y="1916.6" font-size="63" textLength="21.07" lengthAdjust="spacingAndGlyphs" >J</text>
<text x="921.93" y="1955" font-size="34" textLength="146.07" lengthAdjust="spacingAndGlyphs" >Soundproof</text>
<text x="963.4" y="1982.5" font-size="34" textLength="63.06" lengthAdjust="spacingAndGlyphs" >room</text>
<text x="0" y="0" font-size="39.5" textLength="122.5" lengthAdjust="spacingAndGlyphs" transform="translate(1251.7,1879.46) rotate(-90)">Balcony</text>
<rect x="542" y="2046" width="162" height="73" fill="none" stroke="#141414" stroke-width="2.2" />
<text x="555.42" y="2102" font-size="68" textLength="44.19" lengthAdjust="spacingAndGlyphs" >E</text>
<text x="599.48" y="2102" font-size="49" textLength="92.38" lengthAdjust="spacingAndGlyphs" >type</text>
<text x="478.55" y="2171" font-size="50" textLength="289.9" lengthAdjust="spacingAndGlyphs" >Living·Dining</text>
<line x1="547.5" y1="2212.8" x2="573.2" y2="2212.8" stroke="#141414" stroke-width="2.6" />
<line x1="547.5" y1="2220.7" x2="573.2" y2="2220.7" stroke="#141414" stroke-width="2.6" />
<circle cx="555.4" cy="2205.7" r="2.5" fill="#000"/>
<circle cx="565.4" cy="2227.3" r="2.5" fill="#000"/>
<text x="591.96" y="2234.5" font-size="71" textLength="75.34" lengthAdjust="spacingAndGlyphs" >9.0</text>
<text x="679.76" y="2241" font-size="63" textLength="21.07" lengthAdjust="spacingAndGlyphs" >J</text>
<text x="540.79" y="2278.3" font-size="34" textLength="163.21" lengthAdjust="spacingAndGlyphs" >Soundproof</text>
<text x="586.32" y="2306.5" font-size="34" textLength="71.91" lengthAdjust="spacingAndGlyphs" >room</text>
<text x="0" y="0" font-size="39.5" textLength="122.81" lengthAdjust="spacingAndGlyphs" transform="translate(884.2,2302.66) rotate(-90)">Balcony</text>
</g>
<rect x="1234" y="2563.4" width="46.7" height="46.2" fill="#f6e5d3" stroke="#141414" stroke-width="0" />
<rect x="1428.6" y="2563.4" width="46.4" height="46.2" fill="#e2eaf4" stroke="#141414" stroke-width="0" />
<path d="M1307,2574.5 L1307,2592 M1304,2593.5 L1311.5,2590 M1312.8,2571.5 L1312.8,2600.6 M1317,2574.5 L1331.6,2574.5 Q1327,2592 1315,2600.6 M1320,2576 Q1322,2592 1333.5,2598" stroke="#111" stroke-width="1.9" fill="none" stroke-linecap="butt"/>
<path d="M1341,2572.5 L1337.6,2579 M1344,2577.5 L1334.6,2585.5 L1344.6,2584.5 M1339.8,2584.5 L1339.8,2600.5 M1337.6,2589.6 L1334.8,2596.6 M1342.6,2590.6 L1344.6,2593.6" stroke="#111" stroke-width="1.9" fill="none" stroke-linecap="butt"/>
<path d="M1348.1,2600.5 L1348.1,2577.8 L1361.6,2577.8 L1361.6,2599 L1357,2597.5 M1354.1,2571.5 L1354.1,2581.5 Q1353,2587 1348.6,2590 M1354.5,2583 L1358.1,2589" stroke="#111" stroke-width="1.9" fill="none" stroke-linecap="butt"/>
<path d="M1503.2,2571.3 L1503.2,2600 L1497.5,2597.5 M1488.8,2580.4 L1500,2580.4 Q1496,2592 1486.9,2598.5 M1515,2578.8 L1506.3,2583.8 M1504.4,2580 Q1509,2591 1517.6,2595.7" stroke="#111" stroke-width="1.9" fill="none" stroke-linecap="butt"/>
<path d="M1520.7,2573.5 L1544.5,2573.5 L1544.5,2599.1 L1520.7,2599.1 Z M1527.6,2580 L1537.6,2580 L1537.6,2591.3 L1527.6,2591.3 Z" stroke="#111" stroke-width="1.9" fill="none" stroke-linecap="butt"/>
<path d="M1555.8,2572.5 Q1557,2582 1557.6,2591.3 Q1558,2580 1563.3,2576.5 Q1571,2577 1569.5,2585 Q1568,2595 1560.8,2601.3" stroke="#111" stroke-width="1.9" fill="none" stroke-linecap="butt"/>
<circle cx="1722.8" cy="2555.5" r="57.2" fill="none" stroke="#141414" stroke-width="2.8"/>
<circle cx="1722.8" cy="2555.5" r="47.3" fill="none" stroke="#141414" stroke-width="2.8"/>
<line x1="1652" y1="2532" x2="1792.8" y2="2578.6" stroke="#141414" stroke-width="2.6" />
<line x1="1698.8" y1="2624.4" x2="1723" y2="2555.3" stroke="#141414" stroke-width="2.6" />
<line x1="1703.4" y1="2515.6" x2="1742.8" y2="2595.5" stroke="#141414" stroke-width="1.2" />
<line x1="1683.1" y1="2575.2" x2="1762.5" y2="2536.4" stroke="#141414" stroke-width="1.2" />
<polygon points="1749.3,2478.8 1727.5,2556.5 1718.5,2553" fill="#141414" stroke="#141414" stroke-width="1" />
<path d="M1743.3,2472 L1750.8,2450.1 L1759.3,2477.3 L1766.7,2454.9" fill="none" stroke="#141414" stroke-width="2.6" stroke-linejoin="miter"/>
</svg>
</body></html>
